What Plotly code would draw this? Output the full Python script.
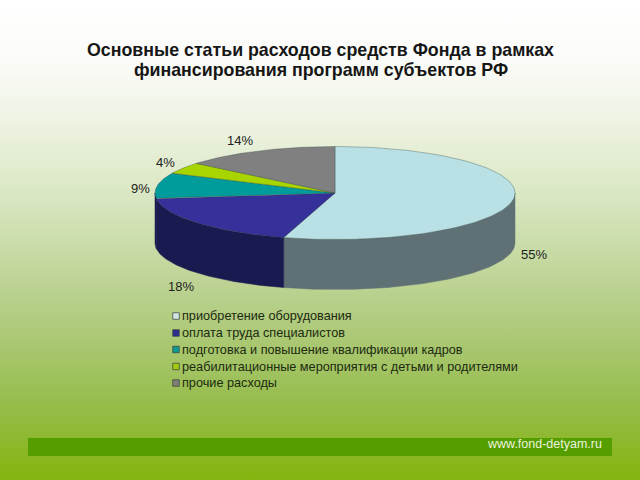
import numpy as np
import plotly.graph_objects as go

# ---- data ----
categories = ["приобретение оборудования", "оплата труда специалистов",
              "подготовка и повышение квалификации кадров",
              "реабилитационные мероприятия с детьми и родителями", "прочие расходы"]
values = [54.6, 18.4, 9, 4, 14]
value_labels = ["55%", "18%", "9%", "4%", "14%"]
title_lines = ["Основные статьи расходов средств Фонда в рамках",
               "финансирования программ субъектов РФ"]
site = "www.fond-detyam.ru"

# ---- styles ----
top_colors = ["#b9e0e4", "#35309a", "#009c9c", "#a8d400", "#808080"]
wall_colors = ["#5f7174", "#191a50", "#191a50", "#667f00", "#4d4d4d"]
legend_colors = ["#cfe6e4", "#2f2f90", "#109a94", "#a3cc10", "#7f7f77"]
label_pos = [(534, 254), (181, 286), (140, 188), (165, 162), (240, 140)]
legend_y = [316, 333, 349.5, 366.5, 383]
CX, CY, RX, RY, DEPTH = 335, 193, 180, 46.5, 50

fig = go.Figure()

# background gradient
fig.add_trace(go.Scatter(
    x=[0, 640, 640, 0, 0], y=[0, 0, 480, 480, 0], mode="none", fill="toself",
    fillgradient=dict(type="vertical", start=0, stop=480, colorscale=[
        [0, "#ffffff"], [0.12, "#fbfcf9"], [0.25, "#eef3e3"], [0.42, "#d8e6c0"],
        [0.62, "#b8d08c"], [0.83, "#98bd50"], [1, "#84b40e"]]),
    hoverinfo="skip", showlegend=False))

fig.add_shape(type="rect", x0=28, x1=612, y0=438, y1=456,
              fillcolor="#559e00", line_width=0, layer="above")


def pt(a, dy=0):
    a = np.radians(a)
    return CX + RX * np.sin(a), CY - RY * np.cos(a) + dy


edges = np.concatenate([[0], np.cumsum(values)]) * 3.6

# side walls
for i in range(len(values)):
    a0, a1 = max(edges[i], 90), min(edges[i + 1], 270)
    if a1 <= a0:
        continue
    arc = np.linspace(a0, a1, 80)
    xt, yt = pt(arc)
    xb, yb = pt(arc[::-1], DEPTH)
    fig.add_trace(go.Scatter(
        x=np.r_[xt, xb, xt[0]], y=np.r_[yt, yb, yt[0]], mode="lines", fill="toself",
        fillcolor=wall_colors[i], line=dict(color=wall_colors[i], width=0.5),
        hoverinfo="skip", showlegend=False))

# top faces
for i in range(len(values)):
    arc = np.linspace(edges[i], edges[i + 1], 120)
    xt, yt = pt(arc)
    fig.add_trace(go.Scatter(
        x=np.r_[CX, xt, CX], y=np.r_[CY, yt, CY], mode="lines", fill="toself",
        fillcolor=top_colors[i], line=dict(color="rgba(40,60,60,0.55)", width=0.6),
        hoverinfo="skip", showlegend=False))

# legend
fig.add_trace(go.Scatter(
    x=[176] * len(categories), y=legend_y, mode="markers",
    marker=dict(symbol="square", size=6.5, color=legend_colors,
                line=dict(color="#3a3a3a", width=0.7)),
    hoverinfo="skip", showlegend=False))

FONT = "Liberation Sans, Arial, sans-serif"
anns = []
for c, y in zip(categories, legend_y):
    anns.append(dict(x=179.5, y=y, text=c, xanchor="left", yanchor="middle", showarrow=False,
                     font=dict(family=FONT, size=12.7, color="#1c2a10")))
for t, (x, y) in zip(value_labels, label_pos):
    anns.append(dict(x=x, y=y, text=t, xanchor="center", yanchor="middle", showarrow=False,
                     font=dict(family=FONT, size=13, color="#222222")))
for t, y in zip(title_lines, [49.5, 70]):
    anns.append(dict(x=320.5, y=y, text=f"<b>{t}</b>", xanchor="center", yanchor="middle",
                     showarrow=False, font=dict(family=FONT, size=17.8, color="#161616")))
anns.append(dict(x=604, y=443.5, text=site, xanchor="right", yanchor="middle", showarrow=False,
                 font=dict(family=FONT, size=12.5, color="#ecf3dc")))

fig.update_layout(
    width=640, height=480, autosize=False,
    margin=dict(l=0, r=0, t=0, b=0),
    paper_bgcolor="#ffffff", plot_bgcolor="#ffffff",
    xaxis=dict(range=[0, 640], visible=False, fixedrange=True),
    yaxis=dict(range=[480, 0], visible=False, fixedrange=True),
    annotations=anns, showlegend=False,
)
fig.write_html("out.html", config=dict(displayModeBar=False),
               post_script="document.body.style.margin='0';document.documentElement.style.overflow='hidden';")
